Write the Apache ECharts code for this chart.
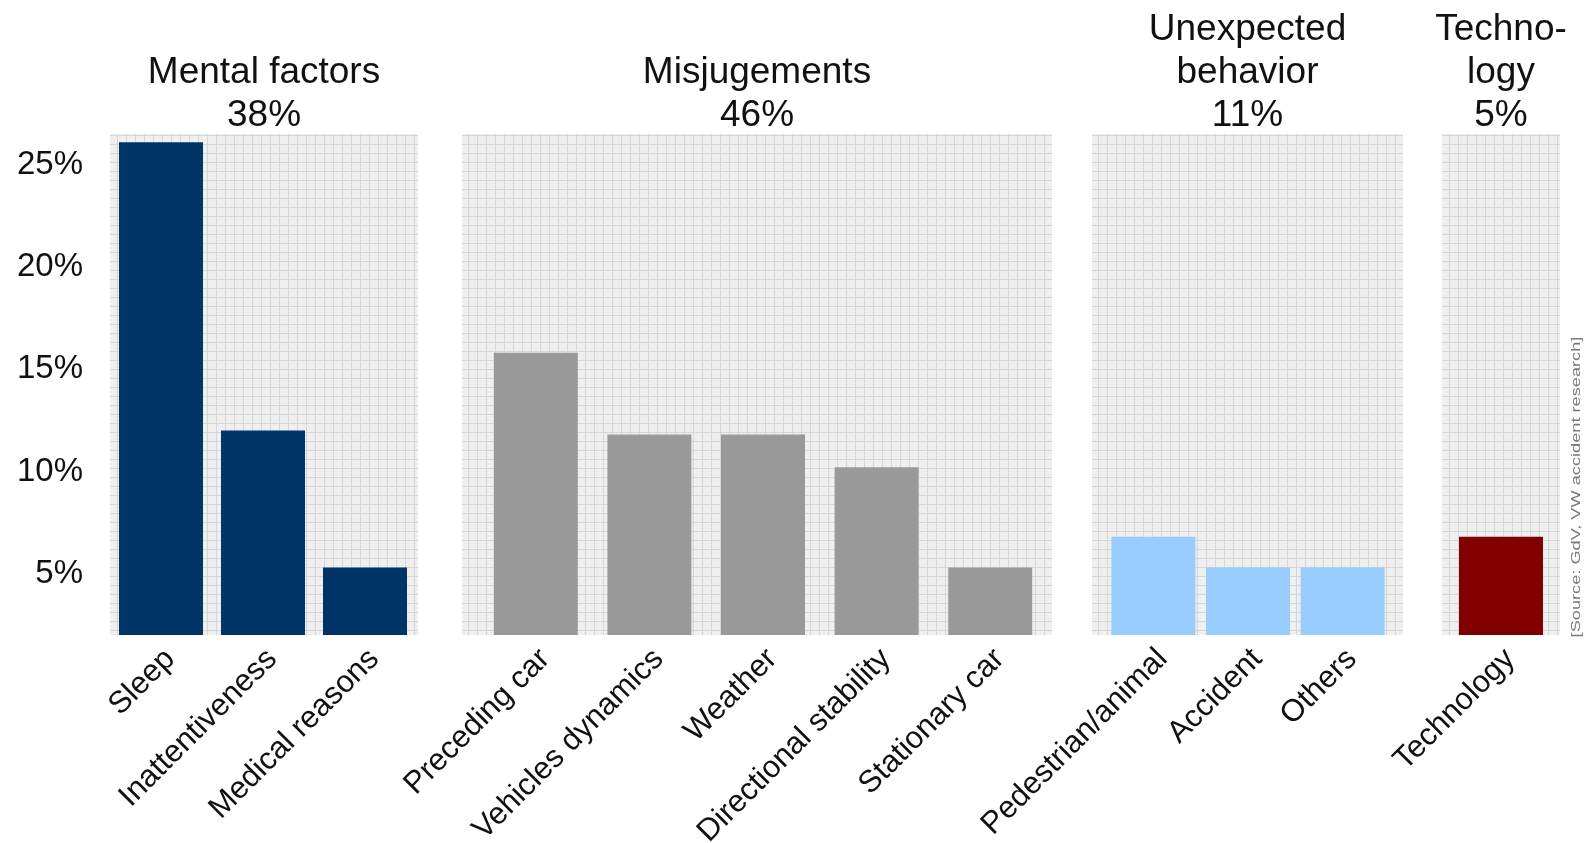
<!DOCTYPE html>
<html>
<head>
<meta charset="utf-8">
<script src="https://cdn.jsdelivr.net/npm/echarts@6/dist/echarts.min.js"></script>
<style>
  html, body { margin: 0; padding: 0; background: #fff; }
  #chart { width: 1589px; height: 843px; }
</style>
</head>
<body>
<div id="chart"></div>
<script>
// data (y axis in %)
const mentalCats = ['Sleep', 'Inattentiveness', 'Medical reasons']
const mentalVals = [26.1, 12.0, 5.3]
const misCats = ['Preceding car', 'Vehicles dynamics', 'Weather', 'Directional stability', 'Stationary car']
const misVals = [15.8, 11.8, 11.8, 10.2, 5.3]
const unexpCats = ['Pedestrian/animal', 'Accident', 'Others']
const unexpVals = [6.8, 5.3, 5.3]
const techCats = ['Technology']
const techVals = [6.8]
const groupTitles = ['Mental factors\n38%', 'Misjugements\n46%', 'Unexpected\nbehavior\n11%', 'Techno-\nlogy\n5%']
const yTicks = [5, 10, 15, 20, 25]

const FONT = 'Liberation Sans, Arial, Helvetica, sans-serif'
const TOP = 134
const BOTTOM = 635

// panels: background extent + bar area
const panels = [
  { bg: [110, 418], bars: [110, 416], cats: mentalCats, vals: mentalVals, color: '#003366' },
  { bg: [462, 1052], bars: [479, 1047], cats: misCats, vals: misVals, color: '#999999' },
  { bg: [1092, 1403], bars: [1106, 1390], cats: unexpCats, vals: unexpVals, color: '#99ccff' },
  { bg: [1442, 1560], bars: [1453, 1549], cats: techCats, vals: techVals, color: '#800000' },
]

// fine grid paper pattern
const pat = document.createElement('canvas')
pat.width = 9
pat.height = 9
const ctx = pat.getContext('2d')
ctx.fillStyle = '#efefef'
ctx.fillRect(0, 0, 9, 9)
ctx.fillStyle = '#d6d6d6'
ctx.fillRect(0, 0, 9, 1)
ctx.fillRect(0, 0, 1, 9)

const myChart = echarts.init(document.querySelector('#chart'))

const option = {
  animation: false,
  backgroundColor: '#fff',
  title: panels.map((p, i) => ({
    text: groupTitles[i],
    left: (p.bg[0] + p.bg[1]) / 2,
    textAlign: 'center',
    bottom: 843 - TOP - 3,
    padding: 0,
    textStyle: {
      fontFamily: FONT,
      fontSize: 37,
      fontWeight: 'normal',
      lineHeight: 43,
      color: '#111',
    },
  })),
  grid: panels.map((p) => ({
    left: p.bars[0],
    width: p.bars[1] - p.bars[0],
    top: TOP,
    height: BOTTOM - TOP,
    outerBoundsMode: 'none',
    containLabel: false,
  })),
  xAxis: panels.map((p, i) => ({
    type: 'category',
    gridIndex: i,
    data: p.cats,
    axisLine: { show: false },
    axisTick: { show: false },
    axisLabel: {
      interval: 0,
      rotate: 45,
      margin: 10,
      verticalAlign: 'top',
      lineHeight: 26,
      fontFamily: FONT,
      fontSize: 31,
      color: '#111',
    },
  })),
  yAxis: panels.map((p, i) => ({
    type: 'value',
    gridIndex: i,
    min: 2,
    max: 26.5,
    interval: 1,
    show: i === 0,
    axisLine: { show: false },
    axisTick: { show: false },
    splitLine: { show: false },
    axisLabel: {
      margin: 27,
      fontFamily: FONT,
      fontSize: 33,
      color: '#111',
      formatter: (v) => (yTicks.includes(v) ? v + '%' : ''),
    },
  })),
  series: panels.map((p, i) => ({
    type: 'bar',
    xAxisIndex: i,
    yAxisIndex: i,
    data: p.vals,
    barWidth: 84,
    z: 5,
    itemStyle: { color: p.color },
  })),
  graphic: {
    elements: panels
      .map((p) => ({
        type: 'rect',
        z: 0,
        silent: true,
        shape: { x: p.bg[0], y: TOP, width: p.bg[1] - p.bg[0], height: BOTTOM - TOP },
        style: { fill: { image: pat, repeat: 'repeat' } },
      }))
      .concat([
        {
          type: 'text',
          x: 1576,
          y: 487,
          rotation: Math.PI / 2,
          scaleX: 1.4,
          z: 1,
          style: {
            text: '[Source: GdV, VW accident research]',
            fill: '#7a7a7a',
            font: '13px ' + FONT,
            align: 'center',
            verticalAlign: 'middle',
          },
        },
      ]),
  },
}

myChart.setOption(option)
</script>
</body>
</html>
